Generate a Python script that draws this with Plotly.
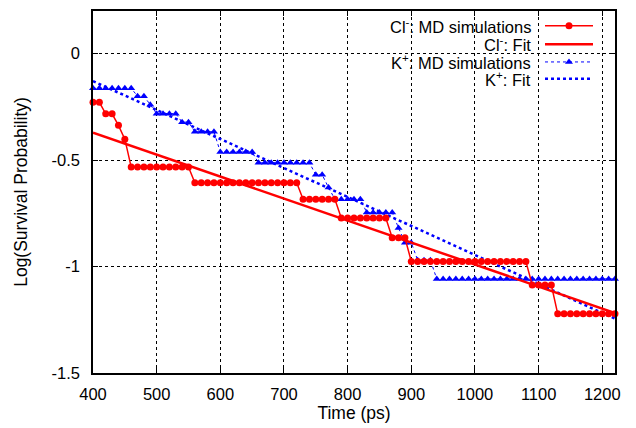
import plotly.graph_objects as go

# ---------------- data ----------------
time_ps = [400, 410, 420, 430, 440, 450, 460, 470, 480, 490,
           500, 510, 520, 530, 540, 550, 560, 570, 580, 590,
           600, 610, 620, 630, 640, 650, 660, 670, 680, 690,
           700, 710, 720, 730, 740, 750, 760, 770, 780, 790,
           800, 810, 820, 830, 840, 850, 860, 870, 880, 890,
           900, 910, 920, 930, 940, 950, 960, 970, 980, 990,
           1000, 1010, 1020, 1030, 1040, 1050, 1060, 1070, 1080, 1090,
           1100, 1110, 1120, 1130, 1140, 1150, 1160, 1170, 1180, 1190,
           1200, 1210, 1220]

cl_md = [-0.229, -0.229, -0.283, -0.283, -0.337, -0.402,
         -0.533, -0.533, -0.533, -0.533, -0.533, -0.533, -0.533, -0.533, -0.533, -0.533,
         -0.607, -0.607, -0.607, -0.607, -0.607, -0.607, -0.607, -0.607, -0.607,
         -0.607, -0.607, -0.607, -0.607, -0.607, -0.607, -0.607, -0.607,
         -0.684, -0.684, -0.684, -0.684, -0.684, -0.684,
         -0.772, -0.772, -0.772, -0.772, -0.772, -0.772, -0.772, -0.772,
         -0.865, -0.865, -0.865,
         -0.976, -0.976, -0.976, -0.976, -0.976, -0.976, -0.976, -0.976, -0.976, -0.976,
         -0.976, -0.976, -0.976, -0.976, -0.976, -0.976, -0.976, -0.976, -0.976,
         -1.087, -1.087, -1.087, -1.087,
         -1.222, -1.222, -1.222, -1.222, -1.222, -1.222, -1.222, -1.222, -1.222, -1.222]

k_md = [-0.163, -0.163, -0.163, -0.163, -0.163, -0.163, -0.163,
        -0.200, -0.200, -0.240,
        -0.282, -0.282, -0.282, -0.282,
        -0.322, -0.322,
        -0.367, -0.367, -0.367, -0.367,
        -0.462, -0.462, -0.462, -0.462, -0.462, -0.462,
        -0.513, -0.513, -0.513, -0.513, -0.513, -0.513, -0.513, -0.513, -0.513,
        -0.569, -0.569, -0.629,
        -0.684, -0.684, -0.684, -0.684, -0.684,
        -0.746, -0.746, -0.746, -0.746, -0.746,
        -0.819, -0.888, -0.888,
        -0.970, -0.970, -0.970,
        -1.058, -1.058, -1.058, -1.058, -1.058, -1.058, -1.058, -1.058, -1.058, -1.058,
        -1.058, -1.058, -1.058, -1.058, -1.058, -1.058, -1.058, -1.058, -1.058, -1.058,
        -1.058, -1.058, -1.058, -1.058, -1.058, -1.058, -1.058, -1.058, -1.058]

fit_time = [400, 1220]
cl_fit = [-0.371, -1.218]
k_fit = [-0.129, -1.245]

x_ticks = [400, 500, 600, 700, 800, 900, 1000, 1100, 1200]
y_ticks = [-1.5, -1, -0.5, 0]
y_tick_labels = ["-1.5", "-1", "-0.5", "0"]

legend_labels = ["Cl<sup>-</sup>: MD simulations", "Cl<sup>-</sup>: Fit",
                 "K<sup>+</sup>: MD simulations", "K<sup>+</sup>: Fit"]

RED = "#ff0000"
BLUE = "#0000ff"
FONT = "Liberation Sans, Arial, Helvetica, sans-serif"

fig = go.Figure()

fig.add_trace(go.Scatter(x=fit_time, y=k_fit, mode="lines",
                         line=dict(color=BLUE, width=2.5, dash="dot"),
                         showlegend=False))
fig.add_trace(go.Scatter(x=time_ps, y=k_md, mode="lines+markers",
                         line=dict(color=BLUE, width=1, dash="dot"),
                         marker=dict(symbol="triangle-up", size=7, color=BLUE),
                         showlegend=False, cliponaxis=False))
fig.add_trace(go.Scatter(x=fit_time, y=cl_fit, mode="lines",
                         line=dict(color=RED, width=2.5),
                         showlegend=False))
fig.add_trace(go.Scatter(x=time_ps, y=cl_md, mode="lines+markers",
                         line=dict(color=RED, width=1.5),
                         marker=dict(symbol="circle", size=7, color=RED),
                         showlegend=False, cliponaxis=False))

# ---------------- custom legend (gnuplot style: text left, sample right) --------
row_y = [24, 42.5, 60.5, 77.5]
sx0, sx1 = 545, 593
styles = [
    dict(line=dict(color=RED, width=1.5), marker=dict(symbol="circle", size=7, color=RED)),
    dict(line=dict(color=RED, width=2.5), marker=None),
    dict(line=dict(color=BLUE, width=1, dash="dot"), marker=dict(symbol="triangle-up", size=7, color=BLUE)),
    dict(line=dict(color=BLUE, width=2.5, dash="dot"), marker=None),
]
for lab, ry, st in zip(legend_labels, row_y, styles):
    fig.add_trace(go.Scatter(x=[sx0, sx1], y=[ry, ry], mode="lines", line=st["line"],
                             xaxis="x2", yaxis="y2", showlegend=False, hoverinfo="skip"))
    if st["marker"] is not None:
        fig.add_trace(go.Scatter(x=[(sx0 + sx1) / 2], y=[ry], mode="markers", marker=st["marker"],
                                 xaxis="x2", yaxis="y2", showlegend=False, hoverinfo="skip"))
    fig.add_annotation(x=532, y=ry, xref="x2", yref="y2", text=lab, showarrow=False,
                       xanchor="right", yanchor="middle", borderpad=0,
                       font=dict(family=FONT, size=16.5, color="black"))

axis_common = dict(showline=True, linecolor="black", linewidth=1.5, mirror="allticks",
                   ticks="inside", ticklen=5, tickwidth=1, tickcolor="black",
                   showgrid=True, gridcolor="black", gridwidth=1, griddash="dot",
                   zeroline=False, tickfont=dict(family=FONT, size=16.5, color="black"))

fig.update_layout(
    width=636, height=428,
    margin=dict(l=93, r=21, t=9, b=53),
    paper_bgcolor="white", plot_bgcolor="white",
    font=dict(family=FONT, size=16.5, color="black"),
    showlegend=False,
    xaxis=dict(range=[400, 1220], tickvals=x_ticks, ticklabelstandoff=5,
               title=dict(text="Time (ps)", standoff=4, font=dict(family=FONT, size=17.5)),
               **axis_common),
    yaxis=dict(range=[-1.5, 0.2], tickvals=y_ticks, ticktext=y_tick_labels,
               ticklabelstandoff=8,
               title=dict(text="Log(Survival Probability)", standoff=19, font=dict(family=FONT, size=17.5)),
               **axis_common),
    xaxis2=dict(overlaying="x", range=[93, 615], visible=False, fixedrange=True),
    yaxis2=dict(overlaying="y", range=[375, 9], visible=False, fixedrange=True),
)

fig.write_html("out.html", config={"displayModeBar": False},
               post_script="document.body.style.margin='0px';document.body.style.padding='0px';")
